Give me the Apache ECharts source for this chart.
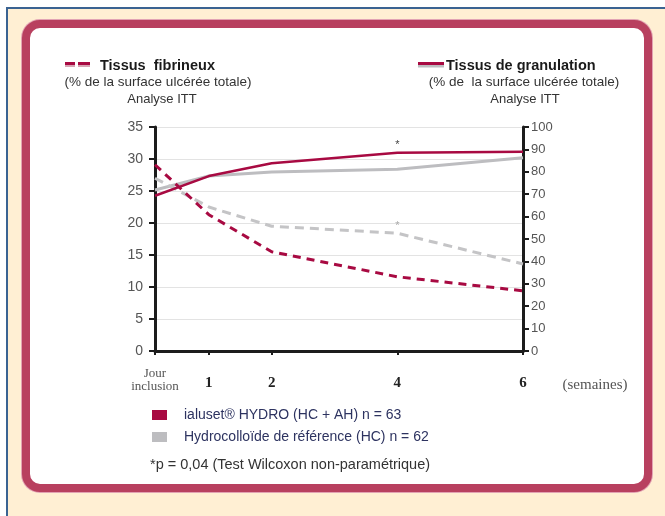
<!DOCTYPE html>
<html>
<head>
<meta charset="utf-8">
<script src="https://cdn.jsdelivr.net/npm/echarts@6/dist/echarts.min.js"></script>
<style>
  html, body { margin: 0; padding: 0; background: #ffffff; }
  #page { position: relative; width: 665px; height: 516px; overflow: hidden; }
  #beige { position: absolute; left: 6px; top: 7px; width: 659px; height: 509px;
           border-left: 2px solid #3A6392; border-top: 2px solid #3A6392; background: #FFEFD3; }
  #frame { position: absolute; left: 22px; top: 20px; width: 630px; height: 472px; box-sizing: border-box;
           border: 8px solid #B8405F; border-radius: 18px; background: #ffffff;
           box-shadow: 0 0 0 1px #E2A3B3; }
  #chart { position: absolute; left: 0; top: 0; width: 665px; height: 516px; }
</style>
</head>
<body>
<div id="page">
  <div id="beige"></div>
  <div id="frame"></div>
  <div id="chart"></div>
</div>
<script>
// ---- data ----
const weekPos = [1/7, 1, 2, 4, 6];              // "Jour inclusion" = day 1
const xLabels = ['Jour\ninclusion', '1', '2', '4', '6'];
const fibIaluset = [29.1, 21.3, 15.5, 11.6, 9.4];   // left axis, % fibrinous tissue
const fibHC = [27.0, 22.5, 19.5, 18.4, 13.6];
const granIaluset = [69.3, 78.1, 83.8, 88.5, 89.0]; // right axis, % granulation tissue
const granHC = [71.9, 78.1, 79.9, 81.1, 86.3];
const starIndex = 3;                                // week 4, p = 0,04
const seriesNames = ['ialuset® HYDRO (HC + AH) n = 63', 'Hydrocolloïde de référence (HC) n = 62'];

const MAG = '#A80A42';
const GRY = '#BDBDC0';
const SANS = 'Liberation Sans, Arial, sans-serif';
const SERIF = 'Liberation Serif, Times New Roman, serif';

function build(vals, starColor) {
  return vals.map((v, i) => {
    const item = { value: [weekPos[i], v] };
    if (starColor && i === starIndex) {
      item.label = { show: true, formatter: '*', position: 'top', distance: 2,
                     color: starColor, fontSize: 11, fontFamily: SANS };
    }
    return item;
  });
}

const chart = echarts.init(document.getElementById('chart'), null, { renderer: 'canvas' });

chart.setOption({
  backgroundColor: 'transparent',
  animation: false,
  grid: { left: 155, right: 142, top: 127, bottom: 165 },
  xAxis: {
    type: 'value', min: weekPos[0], max: 6,
    axisLine: { show: true, lineStyle: { color: '#1c1c1c', width: 3 } },
    axisTick: { show: true, customValues: weekPos, length: 4, lineStyle: { color: '#1c1c1c', width: 2 } },
    splitLine: { show: false },
    axisLabel: {
      customValues: weekPos, margin: 16,
      formatter: function (v) {
        let idx = 0, best = 1e9;
        weekPos.forEach((p, i) => { if (Math.abs(p - v) < best) { best = Math.abs(p - v); idx = i; } });
        const t = xLabels[idx];
        if (t.indexOf('\n') >= 0) return t.split('\n').map(s => '{s|' + s + '}').join('\n');
        return '{b|' + t + '}';
      },
      rich: {
        s: { fontFamily: SERIF, fontSize: 13, color: '#555', lineHeight: 13 },
        b: { fontFamily: SERIF, fontSize: 15, fontWeight: 'bold', color: '#222', lineHeight: 15, padding: [17, 0, 0, 0] }
      }
    }
  },
  yAxis: [
    {
      type: 'value', position: 'left', min: 0, max: 35, interval: 5,
      axisLine: { show: true, lineStyle: { color: '#1c1c1c', width: 3 } },
      axisTick: { show: true, length: 6, lineStyle: { color: '#1c1c1c', width: 2 } },
      axisLabel: { color: '#555', fontSize: 14, fontFamily: SANS, margin: 12 },
      splitLine: { show: true, lineStyle: { color: '#E3E3E3', width: 1 } }
    },
    {
      type: 'value', position: 'right', min: 0, max: 100, interval: 10,
      axisLine: { show: true, lineStyle: { color: '#1c1c1c', width: 3 } },
      axisTick: { show: true, length: 6, lineStyle: { color: '#1c1c1c', width: 2 } },
      axisLabel: { color: '#555', fontSize: 13, fontFamily: SANS, margin: 8 },
      splitLine: { show: false }
    }
  ],
  legend: {
    orient: 'vertical', left: 147, top: 403, itemWidth: 15, itemHeight: 10, itemGap: 8,
    icon: 'rect', selectedMode: false, data: seriesNames,
    itemStyle: { borderWidth: 0 },
    textStyle: { color: '#2D3360', fontSize: 14, fontFamily: SANS, padding: [0, 0, 0, 12] }
  },
  series: [
    { name: seriesNames[1], type: 'line', yAxisIndex: 1, data: build(granHC),
      symbol: 'circle', symbolSize: 0, showSymbol: true, color: GRY,
      lineStyle: { color: GRY, width: 3 }, z: 3 },
    { name: seriesNames[0], type: 'line', yAxisIndex: 1, data: build(granIaluset, '#444'),
      symbol: 'circle', symbolSize: 0, showSymbol: true, color: MAG,
      lineStyle: { color: MAG, width: 2.5 }, z: 4 },
    { name: seriesNames[1], type: 'line', yAxisIndex: 0, data: build(fibHC, '#aaa'),
      symbol: 'circle', symbolSize: 0, showSymbol: true, color: GRY,
      lineStyle: { color: '#C4C4C6', width: 3, type: [9, 6] }, z: 3 },
    { name: seriesNames[0], type: 'line', yAxisIndex: 0, data: build(fibIaluset),
      symbol: 'circle', symbolSize: 0, showSymbol: true, color: MAG,
      lineStyle: { color: MAG, width: 3, type: [8, 6] }, z: 4 }
  ],
  graphic: [
    // top-left key
    { type: 'rect', shape: { x: 65, y: 62, width: 10, height: 3 }, style: { fill: MAG } },
    { type: 'rect', shape: { x: 78, y: 62, width: 12, height: 3 }, style: { fill: MAG } },
    { type: 'rect', shape: { x: 65, y: 65, width: 10, height: 2 }, style: { fill: '#D7A3B3' } },
    { type: 'rect', shape: { x: 78, y: 65, width: 12, height: 2 }, style: { fill: '#D7A3B3' } },
    { type: 'text', x: 100, y: 66, style: { text: 'Tissus  fibrineux', font: 'bold 14.5px ' + SANS, fill: '#1a1a1a', textVerticalAlign: 'middle' } },
    { type: 'text', x: 158, y: 82, style: { text: '(% de la surface ulcérée totale)', font: '13.5px ' + SANS, fill: '#333', textAlign: 'center', textVerticalAlign: 'middle' } },
    { type: 'text', x: 162, y: 99, style: { text: 'Analyse ITT', font: '13px ' + SANS, fill: '#333', textAlign: 'center', textVerticalAlign: 'middle' } },
    // top-right key
    { type: 'rect', shape: { x: 418, y: 62, width: 26, height: 3 }, style: { fill: MAG } },
    { type: 'rect', shape: { x: 418, y: 65, width: 26, height: 2.5 }, style: { fill: GRY } },
    { type: 'text', x: 446, y: 66, style: { text: 'Tissus de granulation', font: 'bold 14.5px ' + SANS, fill: '#1a1a1a', textVerticalAlign: 'middle' } },
    { type: 'text', x: 524, y: 82, style: { text: '(% de  la surface ulcérée totale)', font: '13.5px ' + SANS, fill: '#333', textAlign: 'center', textVerticalAlign: 'middle' } },
    { type: 'text', x: 525, y: 99, style: { text: 'Analyse ITT', font: '13px ' + SANS, fill: '#333', textAlign: 'center', textVerticalAlign: 'middle' } },
    // x unit
    { type: 'text', x: 595, y: 385, style: { text: '(semaines)', font: '15px ' + SERIF, fill: '#555', textAlign: 'center', textVerticalAlign: 'middle' } },
    // footnote
    { type: 'text', x: 150, y: 465, style: { text: '*p = 0,04 (Test Wilcoxon non-paramétrique)', font: '14.5px ' + SANS, fill: '#333', textVerticalAlign: 'middle' } }
  ]
});
</script>
</body>
</html>
